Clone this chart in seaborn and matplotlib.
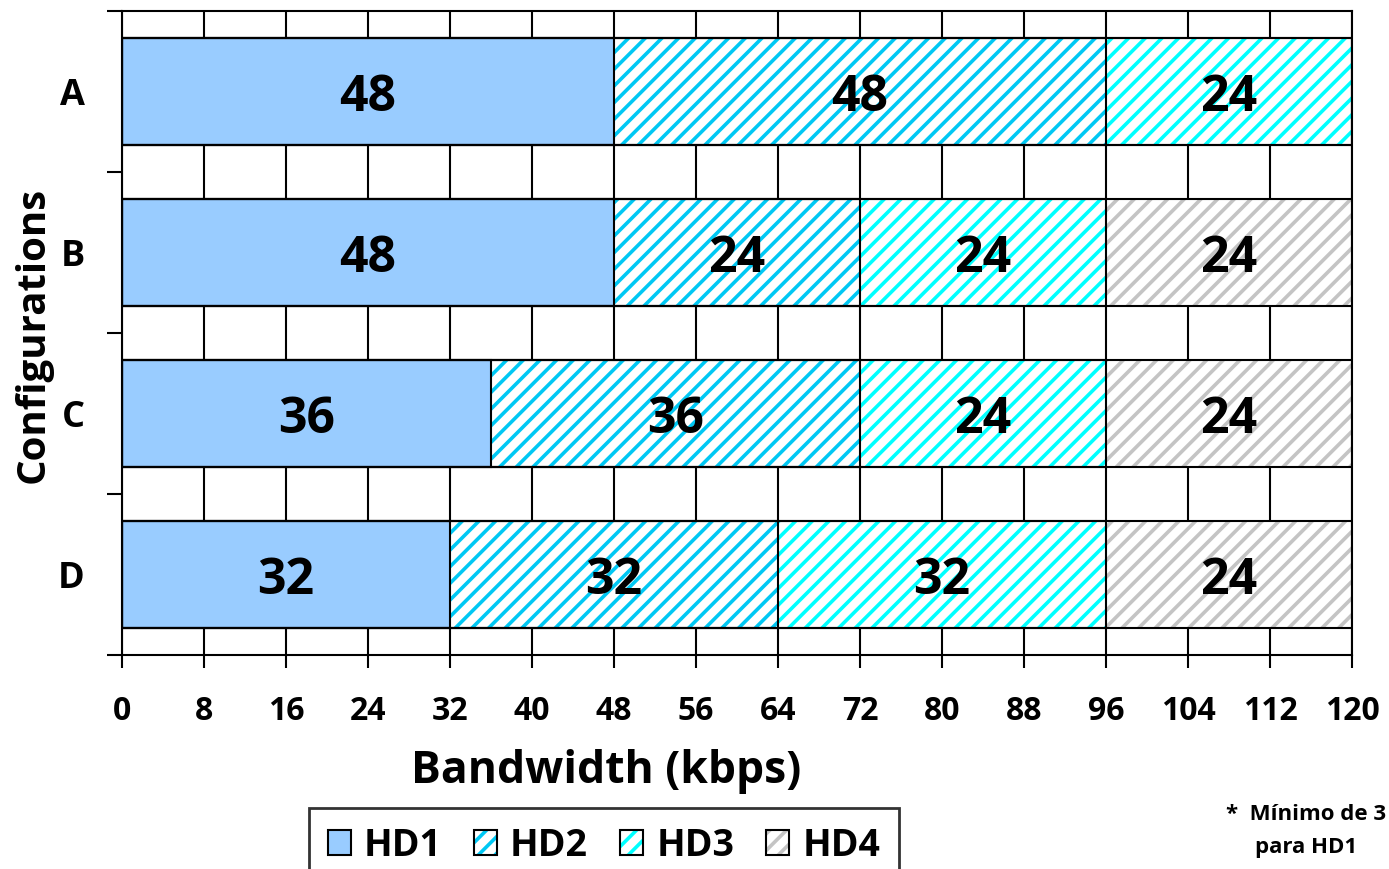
import matplotlib
matplotlib.use("Agg")
import matplotlib.pyplot as plt
import matplotlib.patches as mpatches
from matplotlib.legend_handler import HandlerTuple
import numpy as np
import pandas as pd
import seaborn as sns

# Bandwidth allocation (kbps) per configuration and hierarchy level
configs = ["A", "B", "C", "D"]
hd1 = [48, 48, 36, 32]
hd2 = [48, 24, 36, 32]
hd3 = [24, 24, 24, 32]
hd4 = [0, 24, 24, 24]
series_names = ["HD1", "HD2", "HD3", "HD4"]
x_ticks = list(range(0, 121, 8))

sns.set_style("ticks")
plt.rcParams["font.family"] = ["Open Sans", "DejaVu Sans"]
plt.rcParams["hatch.linewidth"] = 2.6
for key in ["text.color", "axes.labelcolor", "xtick.color", "ytick.color"]:
    plt.rcParams[key] = "black"

W = "bold"
fill_colors = ["#99CCFF", "white", "white", "white"]
stripe_colors = [None, "#00C8F4", "#00FFFF", "#C4C4C4"]
hatches = [None, "//", "//", "//"]

series = [np.array(hd1), np.array(hd2), np.array(hd3), np.array(hd4)]
cums = np.cumsum(np.vstack(series), axis=0)

fig = plt.figure(figsize=(13.89, 8.69), dpi=100)
ax = fig.add_axes([122 / 1389, 1 - 655 / 869, 1230 / 1389, 644 / 869])

bar_w = 0.66
# Stacked bars: draw cumulative totals from the top level down so each
# level overdraws the ones to its right.
for k in range(3, -1, -1):
    df = pd.DataFrame({"config": configs, "bw": cums[k]})
    kw = dict(linewidth=0, zorder=2)
    if hatches[k]:
        kw.update(facecolor="white", edgecolor=stripe_colors[k], hatch=hatches[k])
    else:
        kw.update(facecolor=fill_colors[k], edgecolor="none")
    sns.barplot(data=df, x="bw", y="config", order=configs, orient="y",
                width=bar_w, errorbar=None, saturation=1, color="white",
                ax=ax, **kw)

# Black outlines around every segment
for k in range(4):
    df = pd.DataFrame({"config": configs, "bw": cums[k]})
    sns.barplot(data=df, x="bw", y="config", order=configs, orient="y",
                width=bar_w, errorbar=None, saturation=1, color="black",
                facecolor="none", edgecolor="black", linewidth=1.5, zorder=3,
                ax=ax)

# Value labels centred in each segment
for k in range(4):
    left = cums[k] - series[k]
    for i, v in enumerate(series[k]):
        if v > 0:
            ax.text(left[i] + v / 2, i + 0.04, f"{v}", ha="center", va="center",
                    fontsize=36, fontweight=W, color="black", zorder=4)

ax.set_xlim(0, 120)
ax.set_ylim(3.5, -0.5)
ax.set_xticks(x_ticks)
ax.set_xticklabels([str(t) for t in x_ticks], fontsize=23, fontweight=W)
ax.tick_params(axis="x", direction="out", length=9, width=1.5, pad=20, color="black")

ax.set_yticks(range(len(configs)))
ax.set_yticklabels(configs, fontsize=26, fontweight=W)
ax.set_yticks(np.arange(-0.5, 4, 1), minor=True)
ax.tick_params(axis="y", which="major", length=0, pad=27)
ax.tick_params(axis="y", which="minor", direction="out", length=11, width=1.5, color="black")

ax.set_axisbelow(True)
ax.xaxis.grid(True, color="black", linewidth=1.5)
ax.yaxis.grid(False)
for s in ax.spines.values():
    s.set_visible(True)
    s.set_color("black")
    s.set_linewidth(1.5)

ax.set_xlabel("")
ax.set_ylabel("")
fig.text(606 / 1389, 1 - 772 / 869, "Bandwidth (kbps)", ha="center", va="center",
         fontsize=32, fontweight=W)
fig.text(33 / 1389, 1 - 335 / 869, "Configurations", ha="center", va="center",
         rotation=90, fontsize=29, fontweight=W)

# Legend
handles = []
for k in range(4):
    outline = mpatches.Patch(facecolor="none", edgecolor="black", linewidth=1.5)
    if hatches[k]:
        body = mpatches.Patch(facecolor="white", edgecolor=stripe_colors[k],
                              hatch=hatches[k], linewidth=0)
    else:
        body = mpatches.Patch(facecolor=fill_colors[k], edgecolor="none", linewidth=0)
    handles.append((body, outline))
leg = fig.legend(handles, series_names, loc="upper center",
                 bbox_to_anchor=(604 / 1389, 1 - 808 / 869), ncol=4,
                 handler_map={tuple: HandlerTuple(ndivide=1, pad=0)},
                 prop={"size": 27, "weight": W}, frameon=True, fancybox=False,
                 edgecolor="black", handlelength=0.62, handleheight=0.62,
                 handletextpad=0.35, columnspacing=0.85, borderpad=0.5,
                 borderaxespad=0)
leg.get_frame().set_linewidth(2)

fig.text(1306 / 1389, 1 - 804 / 869, "*  Mínimo de 3\npara HD1", ha="center",
         va="top", fontsize=16, fontweight=W, multialignment="center",
         linespacing=1.75)

fig.savefig("out.png", dpi=100)
